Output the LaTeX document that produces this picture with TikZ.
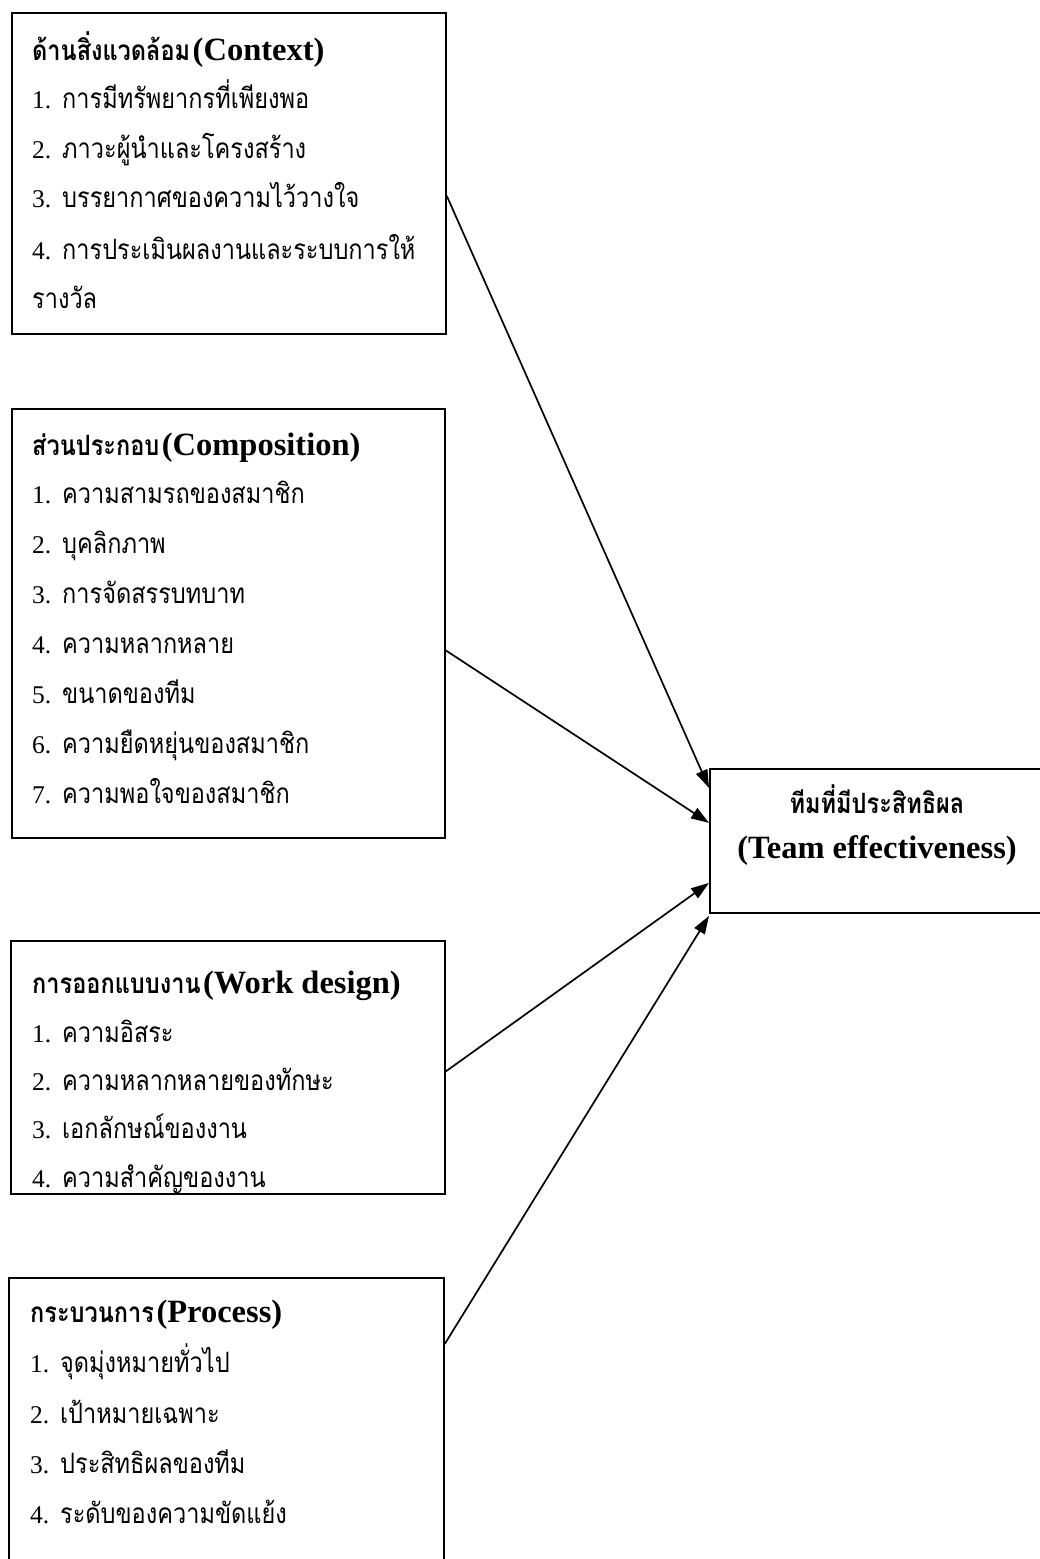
\documentclass[tikz,border=0pt]{standalone}
\usepackage{fontspec}
\usepackage{graphicx}
\usetikzlibrary{arrows.meta,calc}
\setmainfont{Liberation Serif}
\newfontfamily\thai[Script=Thai]{Loma}

% text styles: Thai set tall and narrow, Latin in a Times-like serif
\newcommand{\latsz}{\fontsize{25.5}{25.5}\selectfont}
\newcommand{\latbold}{\fontsize{32.5}{32.5}\selectfont\bfseries}
\newcommand{\thr}[1]{\scalebox{0.84}[1]{\thai\fontsize{28}{28}\selectfont #1}}
\newcommand{\thbold}[1]{\scalebox{0.84}[1]{\thai\fontsize{28}{28}\selectfont\bfseries #1}}
\newcommand{\itm}[2]{\makebox[30pt][l]{\latsz #1}\thr{#2}}

\begin{document}
\begin{tikzpicture}[x=1pt,y=-1pt,
  frame/.style={draw, line width=1.8pt, inner sep=0pt, anchor=north west},
  line/.style={anchor=base west, inner sep=0pt},
  link/.style={line width=1.7pt, -{Triangle[length=18pt,width=12pt]}}]
\useasboundingbox (0,0) rectangle (1040,1559);
\clip (0,0) rectangle (1040,1559);

% factor boxes
\node[frame, minimum width=434pt, minimum height=321pt] (ctx) at (11,12) {};
\node[frame, minimum width=433pt, minimum height=429pt] (cmp) at (11,408) {};
\node[frame, minimum width=434pt, minimum height=253pt] (wrk) at (10,940) {};
\node[frame, minimum width=435pt, minimum height=330pt] (prc) at (8,1277) {};
% outcome box
\node[frame, minimum width=360pt, minimum height=144pt] (eff) at (709,768) {};

% Context
\node[line] (ctx-t) at (32,60) {\thbold{ด้านสิ่งแวดล้อม} {\latbold (Context)}};
\node[line] (ctx-1) at (32,108) {\itm{1.}{การมีทรัพยากรที่เพียงพอ}};
\node[line] (ctx-2) at (32,158) {\itm{2.}{ภาวะผู้นำและโครงสร้าง}};
\node[line] (ctx-3) at (32,207) {\itm{3.}{บรรยากาศของความไว้วางใจ}};
\node[line] (ctx-4) at (32,259) {\itm{4.}{การประเมินผลงานและระบบการให้}};
\node[line] (ctx-5) at (32,308) {\thr{รางวัล}};

% Composition
\node[line] (cmp-t) at (32,455) {\thbold{ส่วนประกอบ} {\latbold (Composition)}};
\node[line] (cmp-1) at (32,503) {\itm{1.}{ความสามรถของสมาชิก}};
\node[line] (cmp-2) at (32,553) {\itm{2.}{บุคลิกภาพ}};
\node[line] (cmp-3) at (32,603) {\itm{3.}{การจัดสรรบทบาท}};
\node[line] (cmp-4) at (32,653) {\itm{4.}{ความหลากหลาย}};
\node[line] (cmp-5) at (32,703) {\itm{5.}{ขนาดของทีม}};
\node[line] (cmp-6) at (32,753) {\itm{6.}{ความยืดหยุ่นของสมาชิก}};
\node[line] (cmp-7) at (32,803) {\itm{7.}{ความพอใจของสมาชิก}};

% Work design
\node[line] (wrk-t) at (32,993) {\thbold{การออกแบบงาน} {\latbold (Work design)}};
\node[line] (wrk-1) at (32,1042) {\itm{1.}{ความอิสระ}};
\node[line] (wrk-2) at (32,1090) {\itm{2.}{ความหลากหลายของทักษะ}};
\node[line] (wrk-3) at (32,1138) {\itm{3.}{เอกลักษณ์ของงาน}};
\node[line] (wrk-4) at (32,1187) {\itm{4.}{ความสำคัญของงาน}};

% Process
\node[line] (prc-t) at (30,1322) {\thbold{กระบวนการ} {\latbold (Process)}};
\node[line] (prc-1) at (30,1372) {\itm{1.}{จุดมุ่งหมายทั่วไป}};
\node[line] (prc-2) at (30,1423) {\itm{2.}{เป้าหมายเฉพาะ}};
\node[line] (prc-3) at (30,1473) {\itm{3.}{ประสิทธิผลของทีม}};
\node[line] (prc-4) at (30,1523) {\itm{4.}{ระดับของความขัดแย้ง}};

% Outcome
\node[anchor=base, inner sep=0pt] (eff-1) at (877,813) {\thbold{ทีมที่มีประสิทธิผล}};
\node[anchor=base, inner sep=0pt] (eff-2) at (877,858) {\latbold (Team effectiveness)};

% links into the outcome box
\draw[link] ([yshift=-22.5pt]ctx.east) -- ([yshift=53pt]eff.west);
\draw[link] ([yshift=-27pt]cmp.east) -- ([yshift=18pt]eff.west);
\draw[link] ([yshift=-4pt]wrk.east) -- ([yshift=-42pt]eff.west);
\draw[link] ([yshift=99pt]prc.east) -- ([yshift=-75pt]eff.west);
\end{tikzpicture}
\end{document}
